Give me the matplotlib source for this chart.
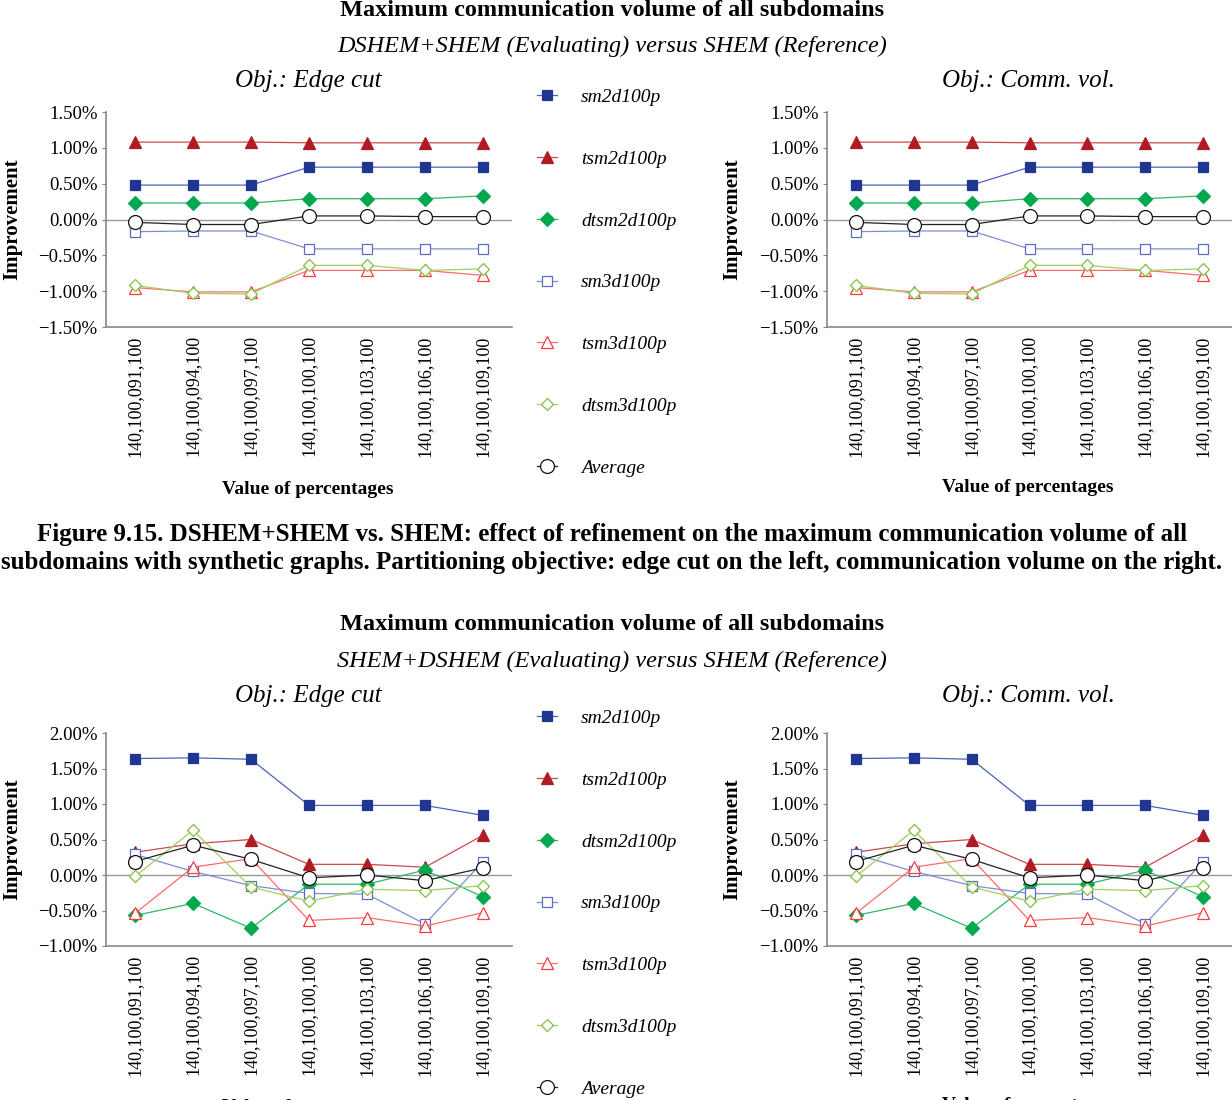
import numpy as np
import matplotlib
matplotlib.use("Agg")
import matplotlib.pyplot as plt

plt.rcParams["font.family"] = ["Liberation Serif", "DejaVu Serif"]

categories = ["140,100,091,100", "140,100,094,100", "140,100,097,100",
              "140,100,100,100", "140,100,103,100", "140,100,106,100",
              "140,100,109,100"]
series_names = ["sm2d100p", "tsm2d100p", "dtsm2d100p", "sm3d100p",
                "tsm3d100p", "dtsm3d100p", "Average"]

# figure 9.15 (DSHEM+SHEM vs SHEM), same numbers on both objectives
top_sm2d = [0.48, 0.48, 0.48, 0.73, 0.73, 0.73, 0.73]
top_tsm2d = [1.08, 1.08, 1.08, 1.07, 1.07, 1.07, 1.07]
top_dtsm2d = [0.23, 0.23, 0.23, 0.29, 0.29, 0.29, 0.33]
top_sm3d = [-0.17, -0.16, -0.16, -0.41, -0.41, -0.41, -0.41]
top_tsm3d = [-0.95, -1.01, -1.01, -0.71, -0.71, -0.71, -0.78]
top_dtsm3d = [-0.92, -1.03, -1.04, -0.64, -0.64, -0.71, -0.69]
top_avg = [-0.04, -0.07, -0.07, 0.05, 0.05, 0.04, 0.04]

# SHEM+DSHEM vs SHEM
bot_sm2d = [1.64, 1.65, 1.63, 0.98, 0.98, 0.98, 0.84]
bot_tsm2d = [0.32, 0.44, 0.50, 0.15, 0.15, 0.11, 0.56]
bot_dtsm2d = [-0.57, -0.40, -0.75, -0.13, -0.13, 0.07, -0.31]
bot_sm3d = [0.29, 0.05, -0.15, -0.26, -0.27, -0.69, 0.19]
bot_tsm3d = [-0.54, 0.11, 0.23, -0.64, -0.60, -0.72, -0.53]
bot_dtsm3d = [-0.02, 0.63, -0.17, -0.37, -0.20, -0.22, -0.15]
bot_avg = [0.19, 0.42, 0.22, -0.04, 0.00, -0.08, 0.10]

top_ticks = [-1.5, -1.0, -0.5, 0.0, 0.5, 1.0, 1.5]
bot_ticks = [-1.0, -0.5, 0.0, 0.5, 1.0, 1.5, 2.0]

# marker, marker face, marker edge, line colour
styles = [
    ("s", "#1f3791", "#1f3791", "#4a63b8"),
    ("^", "#b01c22", "#b01c22", "#c84a4f"),
    ("D", "#00a84f", "#00a84f", "#2db866"),
    ("s", "white", "#5a6fc0", "#7d8fd0"),
    ("^", "white", "#ff3b3b", "#ff6b6b"),
    ("D", "white", "#80c040", "#9fd060"),
    ("o", "white", "#111111", "#222222"),
]
msizes = [7, 8, 7, 6.5, 8.5, 6.5, 10]

W, H = 1232, 1100
fig = plt.figure(figsize=(W / 100, H / 100), dpi=100)


def px_axes(x0, y0, x1, y1):
    return fig.add_axes([x0 / W, 1 - y1 / H, (x1 - x0) / W, (y1 - y0) / H])


def draw_panel(ax, data, ticks):
    x = np.arange(len(categories))
    for vals, (m, fc, ec, lc), ms in zip(data, styles, msizes):
        ax.plot(x, vals, color=lc, lw=0.9, marker=m, ms=ms,
                mfc=fc, mec=ec, mew=0.9)
    ax.axhline(0, color="#999999", lw=1, zorder=0)
    ax.set_xlim(-0.5, len(categories) - 0.5)
    ax.set_ylim(ticks[0], ticks[-1])
    ax.set_yticks(ticks)
    ax.set_yticklabels(["%.2f%%" % t if t >= 0 else "\u2212%.2f%%" % -t
                        for t in ticks], fontsize=13.5)
    ax.set_xticks(x)
    ax.set_xticklabels(categories, rotation=90, fontsize=13)
    ax.tick_params(axis="x", length=0, pad=6)
    ax.tick_params(axis="y", length=3, color="#888888", pad=3)
    for s in ["top", "right"]:
        ax.spines[s].set_visible(False)
    for s in ["left", "bottom"]:
        ax.spines[s].set_color("#888888")
        ax.spines[s].set_linewidth(1.2)


top_data = [top_sm2d, top_tsm2d, top_dtsm2d, top_sm3d, top_tsm3d, top_dtsm3d, top_avg]
bot_data = [bot_sm2d, bot_tsm2d, bot_dtsm2d, bot_sm3d, bot_tsm3d, bot_dtsm3d, bot_avg]

sections = [
    (top_data, top_ticks, 112, 327, "DSHEM+SHEM (Evaluating) versus SHEM (Reference)", 10),
    (bot_data, bot_ticks, 733, 946, "SHEM+DSHEM (Evaluating) versus SHEM (Reference)", 625),
]

for data, ticks, ytop, ybot, subtitle, ytitle in sections:
    axl = px_axes(106, ytop, 512, ybot)
    axr = px_axes(827, ytop, 1232, ybot)
    draw_panel(axl, data, ticks)
    draw_panel(axr, data, ticks)

    fig.text(612 / W, 1 - ytitle / H, "Maximum communication volume of all subdomains",
             ha="center", va="center", fontsize=17.5, fontweight="bold")
    fig.text(612 / W, 1 - (ytitle + 36) / H, subtitle,
             ha="center", va="center", fontsize=17.5, style="italic")
    fig.text(308 / W, 1 - (ytitle + 71) / H, "Obj.: Edge cut",
             ha="center", va="center", fontsize=18, style="italic")
    fig.text(1028 / W, 1 - (ytitle + 71) / H, "Obj.: Comm. vol.",
             ha="center", va="center", fontsize=18, style="italic")
    ymid = (ytop + ybot) / 2
    fig.text(12 / W, 1 - ymid / H, "Improvement", rotation=90,
             ha="center", va="center", fontsize=15, fontweight="bold")
    fig.text(732 / W, 1 - ymid / H, "Improvement", rotation=90,
             ha="center", va="center", fontsize=15, fontweight="bold")
    fig.text(308 / W, 1 - (ybot + 162) / H, "Value of percentages",
             ha="center", va="center", fontsize=14, fontweight="bold")
    fig.text(1028 / W, 1 - (ybot + 160) / H, "Value of percentages",
             ha="center", va="center", fontsize=14, fontweight="bold")

    handles = axl.get_lines()[:len(series_names)]
    fig.legend(handles, series_names, loc="upper left",
               bbox_to_anchor=(519 / W, 1 - (ytop - 41) / H),
               frameon=False, prop={"style": "italic", "size": 14},
               handlelength=1.05, handletextpad=1.25, labelspacing=2.27)

fig.text(612 / W, 1 - 535 / H,
         "Figure 9.15. DSHEM+SHEM vs. SHEM: effect of refinement on the maximum communication volume of all",
         ha="center", va="center", fontsize=18, fontweight="bold")
fig.text(612 / W, 1 - 563 / H,
         "subdomains with synthetic graphs. Partitioning objective: edge cut on the left, communication volume on the right.",
         ha="center", va="center", fontsize=18, fontweight="bold")

fig.savefig("out.png", dpi=100)
